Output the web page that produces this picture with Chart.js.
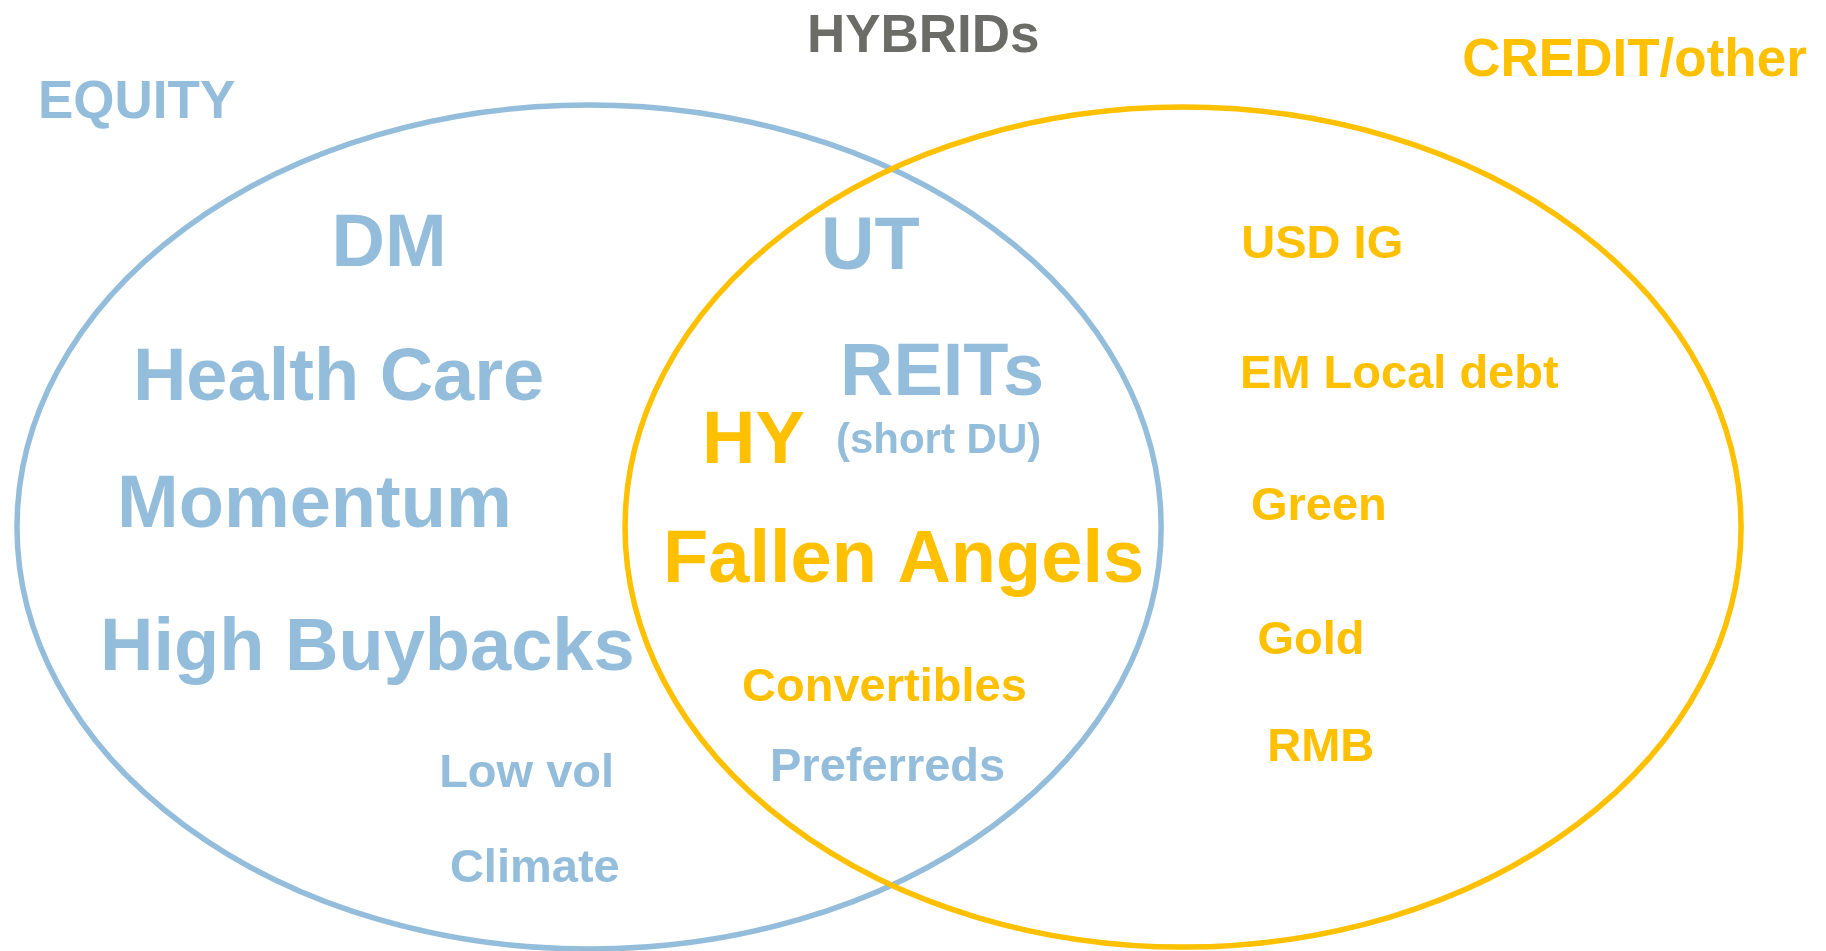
<!DOCTYPE html>
<html>
<head>
<meta charset="utf-8">
<script src="https://cdn.jsdelivr.net/npm/chart.js@4/dist/chart.umd.min.js"></script>
<style>
  html, body { margin: 0; padding: 0; background: #ffffff; }
  #wrap { width: 1826px; height: 951px; position: relative; }
</style>
</head>
<body>
<div id="wrap"><canvas id="venn"></canvas></div>
<script>
// Venn layout in percent of the plot (x: 0..100 left->right, y: 0..100 top->bottom)
const setNames   = ['EQUITY', 'CREDIT/other'];
const setCx      = [32.26, 64.79];
const setCy      = [55.42, 55.42];
const setRx      = [31.33, 30.56];
const setRy      = [44.37, 44.16];
const setGroup   = ['equity', 'credit'];

const labels = [
  'EQUITY', 'HYBRIDs', 'CREDIT/other',
  'DM', 'Health Care', 'Momentum', 'High Buybacks', 'Low vol', 'Climate',
  'UT', 'REITs', '(short DU)', 'HY', 'Fallen Angels', 'Convertibles', 'Preferreds',
  'USD IG', 'EM Local debt', 'Green', 'Gold', 'RMB',
];
const labelX = [
  2.08, 44.19, 80.08,
  18.16, 7.28, 6.41, 5.48, 24.05, 24.64,
  44.96, 46.00, 45.78, 38.45, 36.31, 40.64, 42.17,
  67.98, 67.91, 68.51, 68.86, 69.40,
];
const labelY = [
  12.41, 5.47, 7.99,
  27.97, 42.06, 55.42, 70.45, 82.75, 92.74,
  28.29, 41.54, 47.64, 48.69, 61.15, 73.71, 82.12,
  27.13, 40.80, 54.68, 68.77, 80.02,
];
const labelGroup = [
  'equity', 'hybrid', 'credit',
  'equity', 'equity', 'equity', 'equity', 'equity', 'equity',
  'equity', 'equity', 'equity', 'credit', 'credit', 'credit', 'equity',
  'credit', 'credit', 'credit', 'credit', 'credit',
];
const labelTier = [
  'title', 'title', 'title',
  'large', 'large', 'large', 'large', 'medium', 'medium',
  'large', 'large', 'note', 'large', 'large', 'medium', 'medium',
  'medium', 'medium', 'medium', 'medium', 'medium',
];

const COLORS = { equity: '#93bddb', credit: '#ffc000', hybrid: '#6b6b67' };
const SIZES  = { title: 53, large: 74, medium: 47, note: 42 };
const FONT   = "'Liberation Sans', Arial, Helvetica, sans-serif";

const vennPlugin = {
  id: 'venn',
  afterDatasetsDraw(chart) {
    const { ctx, scales: { x, y } } = chart;
    ctx.save();
    // set outlines
    setNames.forEach((name, i) => {
      const px = x.getPixelForValue(setCx[i]);
      const py = y.getPixelForValue(setCy[i]);
      const rx = Math.abs(x.getPixelForValue(setCx[i] + setRx[i]) - px);
      const ry = Math.abs(y.getPixelForValue(setCy[i] + setRy[i]) - py);
      ctx.beginPath();
      ctx.ellipse(px, py, rx, ry, 0, 0, Math.PI * 2);
      ctx.lineWidth = 5.5;
      ctx.strokeStyle = COLORS[setGroup[i]];
      ctx.stroke();
    });
    // text labels
    ctx.textAlign = 'left';
    ctx.textBaseline = 'alphabetic';
    labels.forEach((txt, i) => {
      ctx.font = `bold ${SIZES[labelTier[i]]}px ${FONT}`;
      ctx.fillStyle = COLORS[labelGroup[i]];
      ctx.fillText(txt, x.getPixelForValue(labelX[i]), y.getPixelForValue(labelY[i]));
    });
    ctx.restore();
  },
};

new Chart(document.getElementById('venn'), {
  type: 'scatter',
  data: {
    datasets: [{
      label: 'anchors',
      data: labels.map((l, i) => ({ x: labelX[i], y: labelY[i] })),
      pointRadius: 0,
      pointHoverRadius: 0,
    }],
  },
  options: {
    responsive: true,
    maintainAspectRatio: false,
    animation: false,
    events: [],
    layout: { padding: 0 },
    plugins: { legend: { display: false }, tooltip: { enabled: false } },
    scales: {
      x: { type: 'linear', min: 0, max: 100, display: false },
      y: { type: 'linear', min: 0, max: 100, reverse: true, display: false },
    },
  },
  plugins: [vennPlugin],
});
</script>
</body>
</html>
